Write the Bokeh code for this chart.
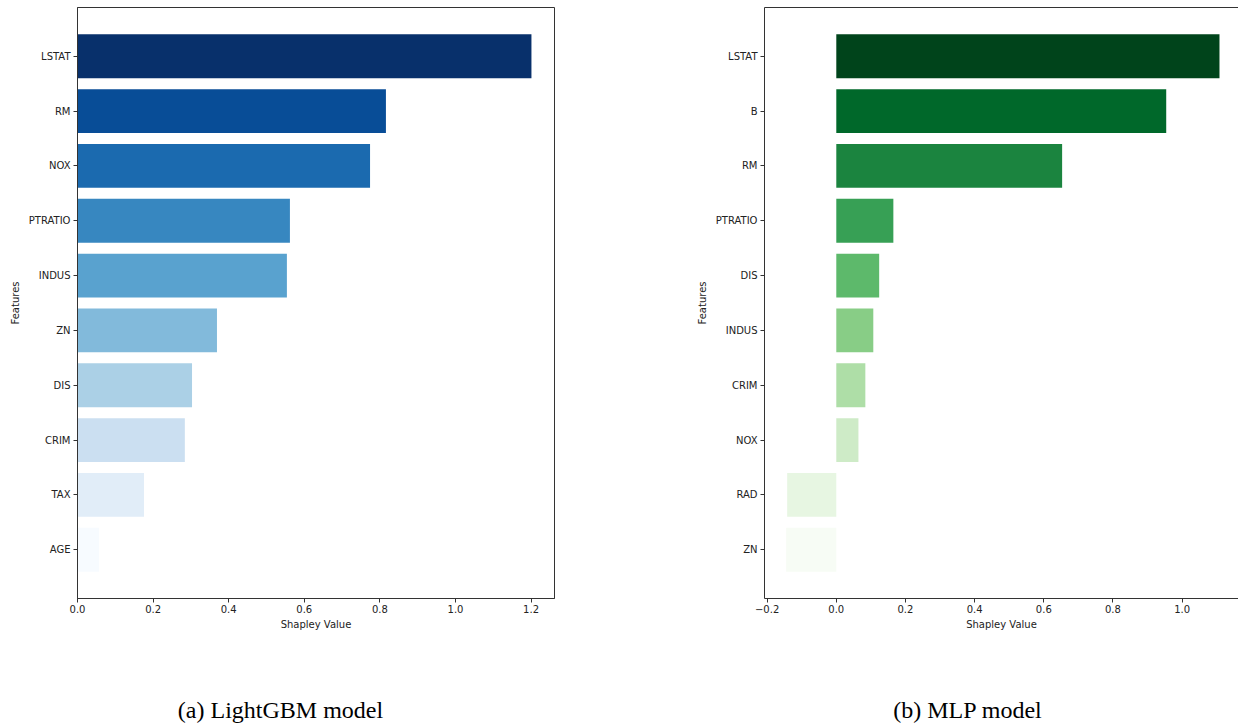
from bokeh.plotting import figure
from bokeh.models import Range1d, FixedTicker, LinearAxis, ColumnDataSource, Div, Spacer
from bokeh.layouts import row, column
from bokeh.embed import file_html
from bokeh.resources import INLINE

# ---------------- data ----------------
lgbm_features = ["LSTAT", "RM", "NOX", "PTRATIO", "INDUS", "ZN", "DIS", "CRIM", "TAX", "AGE"]
lgbm_values = [1.201, 0.816, 0.774, 0.562, 0.554, 0.369, 0.303, 0.284, 0.176, 0.057]

mlp_features = ["LSTAT", "B", "RM", "PTRATIO", "DIS", "INDUS", "CRIM", "NOX", "RAD", "ZN"]
mlp_values = [1.108, 0.954, 0.653, 0.165, 0.124, 0.107, 0.084, 0.064, -0.142, -0.145]

lgbm_ticks = [0.0, 0.2, 0.4, 0.6, 0.8, 1.0, 1.2]
mlp_ticks = [-0.2, 0.0, 0.2, 0.4, 0.6, 0.8, 1.0]

captions = ["(a) LightGBM model", "(b) MLP model"]

# ---------------- styles ----------------
blues = ["#08306b", "#084d97", "#1b6aaf", "#3787c0", "#59a2cf",
         "#82badb", "#abd0e6", "#cbdff1", "#e1edf8", "#f7fbff"]
greens = ["#00441b", "#00682a", "#1b843f", "#37a055", "#5db96b",
          "#88cd86", "#aedea7", "#ceebc7", "#e7f6e2", "#f7fcf5"]

SPINE = "#333333"
TXT = "#222222"
FONT = "DejaVu Sans"


def fmt(t):
    return ("%.1f" % t).replace("-", "\u2212")


def make_panel(features, values, colors, ticks, x0, x1, frame_w,
               border_l, border_r, full_outline):
    n = len(features)
    pos = list(range(n))
    src = ColumnDataSource(dict(y=pos, right=values, color=colors))
    p = figure(frame_width=frame_w, frame_height=591,
               x_range=Range1d(x0, x1),
               y_range=Range1d(n - 1 + 0.89, -0.89),
               output_backend="svg", toolbar_location=None,
               min_border_left=border_l, min_border_right=border_r,
               min_border_top=7, min_border_bottom=42)
    p.background_fill_color = "white"
    p.border_fill_color = "white"
    p.grid.visible = False

    p.hbar(y="y", left=0, right="right", height=0.8, color="color",
           line_color=None, source=src)

    xa = p.below[0]
    ya = p.left[0]
    for ax in (xa, ya):
        ax.axis_line_color = SPINE
        ax.axis_line_width = 1
        ax.major_tick_line_color = SPINE
        ax.major_tick_line_width = 1
        ax.major_tick_out = 4
        ax.major_tick_in = 0
        ax.minor_tick_line_color = None
        ax.major_label_text_font = FONT
        ax.major_label_text_font_size = "10px"
        ax.major_label_text_color = TXT
        ax.axis_label_text_font = FONT
        ax.axis_label_text_font_size = "10px"
        ax.axis_label_text_font_style = "normal"
        ax.axis_label_text_color = TXT

    xa.ticker = FixedTicker(ticks=ticks)
    xa.major_label_overrides = {t: fmt(t) for t in ticks}
    xa.major_label_standoff = 2
    xa.axis_label = "Shapley Value"
    xa.axis_label_standoff = 3

    ya.ticker = FixedTicker(ticks=pos)
    ya.major_label_overrides = {i: f for i, f in zip(pos, features)}
    ya.major_label_standoff = 3
    ya.axis_label = "Features"
    ya.axis_label_standoff = 5

    if full_outline:
        p.outline_line_color = SPINE
        p.outline_line_width = 1
        p.outline_line_alpha = 1
    else:
        # top spine only (right side is cut off by the picture edge)
        p.outline_line_color = None
        top = LinearAxis(ticker=FixedTicker(ticks=[]), axis_line_color=SPINE,
                         axis_line_width=1, major_tick_line_color=None,
                         minor_tick_line_color=None,
                         major_label_text_font_size="0px",
                         major_label_standoff=0, axis_label=None)
        p.add_layout(top, "above")
    return p


# left: frame 77..554 ; right: frame 764..1238
p1 = make_panel(lgbm_features, lgbm_values, blues, lgbm_ticks,
                0.0, 1.262, 477, 77, 135, True)
p2 = make_panel(mlp_features, mlp_values, greens, mlp_ticks,
                -0.2076, 1.163, 474, 75, 0, False)


def caption_div(text, width):
    html = ('<div style="width:%dpx; text-align:center; '
            'font-family:\'Liberation Serif\', \'Times New Roman\', serif; '
            'font-size:24px; line-height:24px; padding-top:53px; '
            'color:#000; white-space:nowrap;">%s</div>' % (width, text))
    return Div(text=html, width=width, height=79)


cap1 = caption_div(captions[0], 551)
cap2 = caption_div(captions[1], 503)

layout = column(row(p1, p2, spacing=0),
                row(cap1, Spacer(width=150, height=79), cap2, spacing=0),
                spacing=0)
open("out.html", "w").write(file_html(layout, INLINE))
